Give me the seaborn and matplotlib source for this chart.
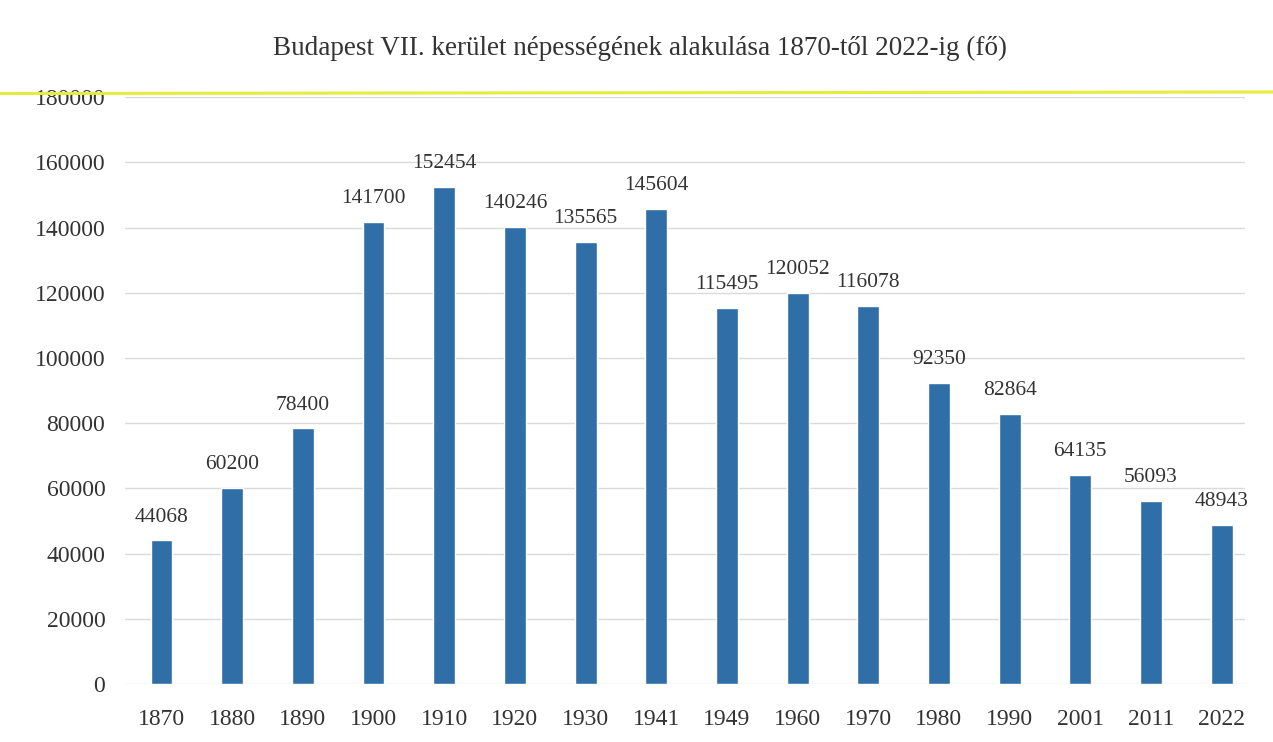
import matplotlib
matplotlib.use("Agg")
import matplotlib.pyplot as plt
from matplotlib.lines import Line2D
import seaborn as sns
import pandas as pd

# Adatok
evek = ["1870", "1880", "1890", "1900", "1910", "1920", "1930", "1941",
        "1949", "1960", "1970", "1980", "1990", "2001", "2011", "2022"]
nepesseg = [44068, 60200, 78400, 141700, 152454, 140246, 135565, 145604,
            115495, 120052, 116078, 92350, 82864, 64135, 56093, 48943]

df = pd.DataFrame({"Év": evek, "Népesség": nepesseg})

sns.set_theme(style="white")
plt.rcParams["font.family"] = ["Liberation Serif", "DejaVu Serif"]

fig = plt.figure(figsize=(12.73, 7.42), dpi=100)
ax = fig.add_axes([0.098, 0.078, 0.880, 0.791])

sns.barplot(data=df, x="Év", y="Népesség", color="#2f6ea6", saturation=1,
            width=0.31, ax=ax)

ax.bar_label(ax.containers[0], fmt="{:.0f}", padding=10, fontsize=15.5, color="#333333")

ax.set_ylim(0, 180000)
ax.set_yticks(range(0, 180001, 20000))
ax.set_xlim(-0.52, 15.33)
ax.yaxis.grid(True, color="#dadada", linewidth=1)
ax.set_axisbelow(True)
for s in ax.spines.values():
    s.set_visible(False)
ax.tick_params(axis="both", length=0, labelsize=17, labelcolor="#333333")
ax.tick_params(axis="y", pad=14)
ax.tick_params(axis="x", pad=18)
ax.set_xlabel("")
ax.set_ylabel("")

fig.suptitle("Budapest VII. kerület népességének alakulása 1870-től 2022-ig (fő)",
             x=0.503, y=0.952, fontsize=19.5, color="#333333")

# sárga kiemelő csík a szkennelt képen
fig.add_artist(Line2D([0, 1], [0.874, 0.876], color="#e6ec3c", linewidth=2.2,
                      transform=fig.transFigure))

fig.savefig("out.png", dpi=100)
plt.close(fig)
